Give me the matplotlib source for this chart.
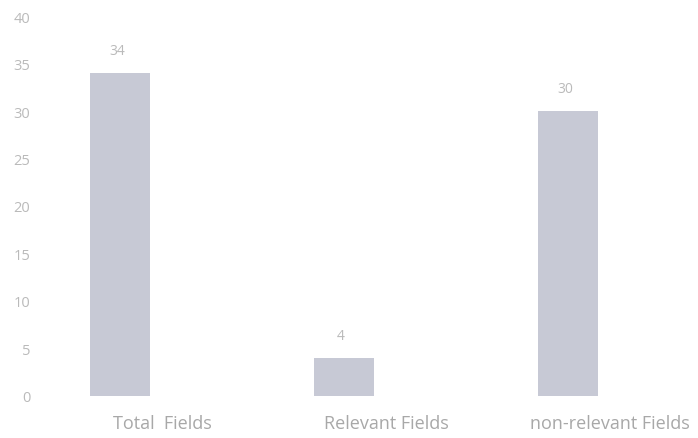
import matplotlib
matplotlib.use("Agg")
import matplotlib.pyplot as plt

categories = ["Total  Fields", "Relevant Fields", "non-relevant Fields"]
values = [34, 4, 30]
yticks = [0, 5, 10, 15, 20, 25, 30, 35, 40]

plt.rcParams['font.family'] = ['Open Sans', 'DejaVu Sans']

fig = plt.figure(figsize=(6.98, 4.39), dpi=100)
ax = fig.add_axes([0.0573, 0.096, 0.931, 0.865])

x = list(range(len(categories)))
bar_color = "#c7c9d5"
text_color = "#bababa"
ax.bar(x, values, width=0.27, color=bar_color)

for xi, v in zip(x, values):
    ax.annotate(str(v), (xi, v), xytext=(-2, 11), textcoords="offset points",
                ha="center", va="bottom", fontsize=10, color=text_color)

ax.set_xlim(-0.357, 2.545)
ax.set_ylim(0, 40)
ax.set_yticks(yticks)
# category labels sit a little to the right of the bar centres in the reference
label_shift = 0.19
ax.set_xticks([xi + label_shift for xi in x])
ax.set_xticklabels(categories, fontsize=13, color="#a8a8a8")
ax.tick_params(axis='y', labelsize=10.5, labelcolor=text_color, length=0, pad=7)
ax.tick_params(axis='x', length=0, pad=13)
for s in ax.spines.values():
    s.set_visible(False)

fig.savefig("out.png", dpi=100)
